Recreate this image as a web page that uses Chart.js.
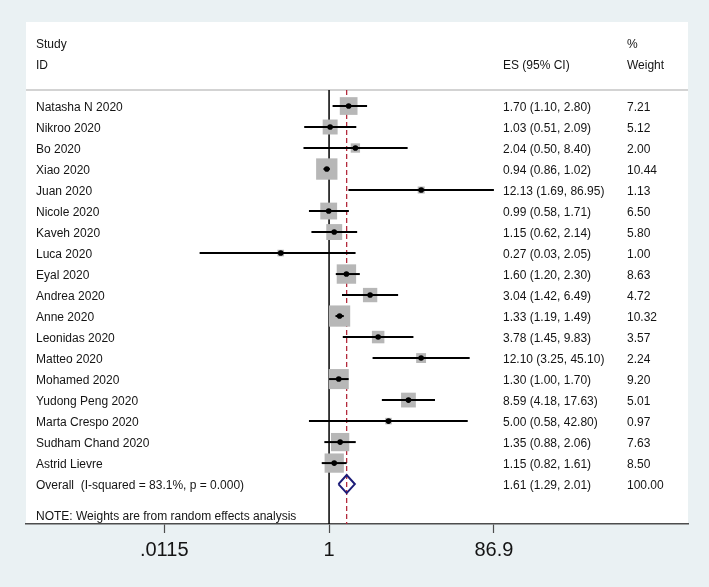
<!DOCTYPE html>
<html>
<head>
<meta charset="utf-8">
<title>Forest plot</title>
<script src="https://cdn.jsdelivr.net/npm/chart.js@4.4.1/dist/chart.umd.min.js"></script>
<style>
  html, body { margin: 0; padding: 0; background: #eaf1f3; }
  #wrap { width: 709px; height: 587px; }
</style>
</head>
<body>
<div id="wrap"><canvas id="forest" width="709" height="587"></canvas></div>
<script>
// Studies (top to bottom)
const studies = [
  "Natasha N 2020", "Nikroo 2020", "Bo 2020", "Xiao 2020", "Juan 2020",
  "Nicole 2020", "Kaveh 2020", "Luca 2020", "Eyal 2020", "Andrea 2020",
  "Anne 2020", "Leonidas 2020", "Matteo 2020", "Mohamed 2020",
  "Yudong Peng 2020", "Marta Crespo 2020", "Sudham Chand 2020", "Astrid Lievre"
];
const es = [1.70, 1.03, 2.04, 0.94, 12.13, 0.99, 1.15, 0.27, 1.60, 3.04, 1.33, 3.78, 12.10, 1.30, 8.59, 5.00, 1.35, 1.15];
const ciLow = [1.10, 0.51, 0.50, 0.86, 1.69, 0.58, 0.62, 0.03, 1.20, 1.42, 1.19, 1.45, 3.25, 1.00, 4.18, 0.58, 0.88, 0.82];
const ciHigh = [2.80, 2.09, 8.40, 1.02, 86.95, 1.71, 2.14, 2.05, 2.30, 6.49, 1.49, 9.83, 45.10, 1.70, 17.63, 42.80, 2.06, 1.61];
const weights = [7.21, 5.12, 2.00, 10.44, 1.13, 6.50, 5.80, 1.00, 8.63, 4.72, 10.32, 3.57, 2.24, 9.20, 5.01, 0.97, 7.63, 8.50];

// Pooled estimate
const overallLabel = "Overall  (I-squared = 83.1%, p = 0.000)";
const overallEs = 1.61;
const overallLow = 1.29;
const overallHigh = 2.01;
const overallWeight = 100.00;

// x axis ticks
const tickValues = [0.0115, 1, 86.9];
const tickLabels = [".0115", "1", "86.9"];

const FONT = '"Liberation Sans", Arial, Helvetica, sans-serif';
const overallRow = studies.length;
const headerRow = -0.76;   // separator under the column titles
const yTop = -4, yBottom = 19.9;

const fmt = (v) => v.toFixed(2);

// Background, white plot region, column titles and text columns
const forestText = {
  id: "forestText",
  beforeDraw(chart) {
    const { ctx, chartArea: a, width, height } = chart;
    ctx.save();
    ctx.fillStyle = "#eaf1f3";
    ctx.fillRect(0, 0, width, height);
    ctx.fillStyle = "#ffffff";
    ctx.fillRect(a.left, a.top, a.right - a.left, a.bottom - a.top);
    ctx.restore();
  },
  beforeDatasetsDraw(chart) {
    const { ctx, chartArea: a } = chart;
    const y = chart.scales.y.getPixelForValue(headerRow);
    ctx.save();
    ctx.strokeStyle = "#c4c4c4";
    ctx.lineWidth = 1.5;
    ctx.beginPath();
    ctx.moveTo(a.left, y);
    ctx.lineTo(a.right, y);
    ctx.stroke();
    ctx.restore();
  },
  afterDraw(chart) {
    const { ctx } = chart;
    const ys = chart.scales.y;
    const colName = 36, colEs = 503, colW = 627;
    const rowY = (r) => ys.getPixelForValue(r) + 1.5;

    ctx.save();
    ctx.fillStyle = "#141414";
    ctx.font = "12px " + FONT;
    ctx.textBaseline = "middle";
    ctx.textAlign = "left";

    // column titles
    ctx.fillText("Study", colName, rowY(-2.98));
    ctx.fillText("ID", colName, rowY(-1.98));
    ctx.fillText("ES (95% CI)", colEs, rowY(-1.98));
    ctx.fillText("%", colW, rowY(-2.98));
    ctx.fillText("Weight", colW, rowY(-1.98));

    studies.forEach((name, i) => {
      ctx.fillText(name, colName, rowY(i));
      ctx.fillText(fmt(es[i]) + " (" + fmt(ciLow[i]) + ", " + fmt(ciHigh[i]) + ")", colEs, rowY(i));
      ctx.fillText(fmt(weights[i]), colW, rowY(i));
    });

    ctx.fillText(overallLabel, colName, rowY(overallRow));
    ctx.fillText(fmt(overallEs) + " (" + fmt(overallLow) + ", " + fmt(overallHigh) + ")", colEs, rowY(overallRow));
    ctx.fillText(fmt(overallWeight), colW, rowY(overallRow));

    ctx.fillText("NOTE: Weights are from random effects analysis", colName, rowY(19.48));
    ctx.restore();
  }
};

// one segment per confidence interval
const ciDatasets = studies.map((s, i) => ({
  type: "scatter",
  label: s + " CI",
  data: [{ x: ciLow[i], y: i }, { x: ciHigh[i], y: i }],
  showLine: true,
  borderColor: "#000000",
  borderWidth: 2,
  pointRadius: 0,
  order: 2
}));

const config = {
  type: "scatter",
  data: {
    datasets: [
      {
        label: "Overall",
        data: [
          { x: overallLow, y: overallRow },
          { x: overallEs, y: overallRow - 0.43 },
          { x: overallHigh, y: overallRow },
          { x: overallEs, y: overallRow + 0.43 },
          { x: overallLow, y: overallRow }
        ],
        showLine: true,
        borderColor: "#1c1c78",
        borderWidth: 2,
        pointRadius: 0,
        order: 0
      },
      {
        label: "ES",
        data: es.map((v, i) => ({ x: v, y: i })),
        backgroundColor: "#000000",
        borderWidth: 0,
        pointRadius: 2.8,
        order: 1
      },
      ...ciDatasets,
      {
        label: "Weight",
        data: es.map((v, i) => ({ x: v, y: i })),
        pointStyle: "rect",
        backgroundColor: "#b7b7b7",
        borderWidth: 0,
        // box area proportional to the study weight
        pointRadius: (c) => 4.67 * Math.sqrt(weights[c.dataIndex]),
        order: 3
      },
      {
        label: "Pooled line",
        data: [{ x: overallEs, y: headerRow }, { x: overallEs, y: yBottom }],
        showLine: true,
        borderColor: "#b32a3c",
        borderWidth: 1.3,
        borderDash: [5, 3],
        pointRadius: 0,
        order: 4
      },
      {
        label: "No effect",
        data: [{ x: 1, y: headerRow }, { x: 1, y: yBottom }],
        showLine: true,
        borderColor: "#000000",
        borderWidth: 1.5,
        pointRadius: 0,
        order: 5
      }
    ]
  },
  options: {
    responsive: false,
    animation: false,
    events: [],
    layout: {
      padding: { left: 26, right: 21, top: 22, bottom: 0 }
    },
    plugins: {
      legend: { display: false },
      tooltip: { enabled: false },
      title: { display: false }
    },
    scales: {
      x: {
        type: "logarithmic",
        position: "bottom",
        bounds: "data",
        min: 0.000272,
        max: 16700,
        afterBuildTicks: (scale) => {
          scale.ticks = tickValues.map((v) => ({ value: v }));
        },
        afterFit: (scale) => {
          scale.height = 63;
        },
        border: { display: true, color: "#4d4d4d", width: 1.5 },
        grid: {
          display: true,
          drawOnChartArea: false,
          drawTicks: true,
          tickLength: 9,
          tickColor: "#4d4d4d",
          tickWidth: 1.2
        },
        ticks: {
          autoSkip: false,
          maxRotation: 0,
          padding: 5,
          color: "#141414",
          font: { family: FONT, size: 20 },
          callback: (v, i) => tickLabels[i]
        }
      },
      y: {
        type: "linear",
        display: false,
        reverse: true,
        min: yTop,
        max: yBottom
      }
    }
  },
  plugins: [forestText]
};

const ctx = document.getElementById("forest").getContext("2d");
window.forestChart = new Chart(ctx, config);
</script>
</body>
</html>
